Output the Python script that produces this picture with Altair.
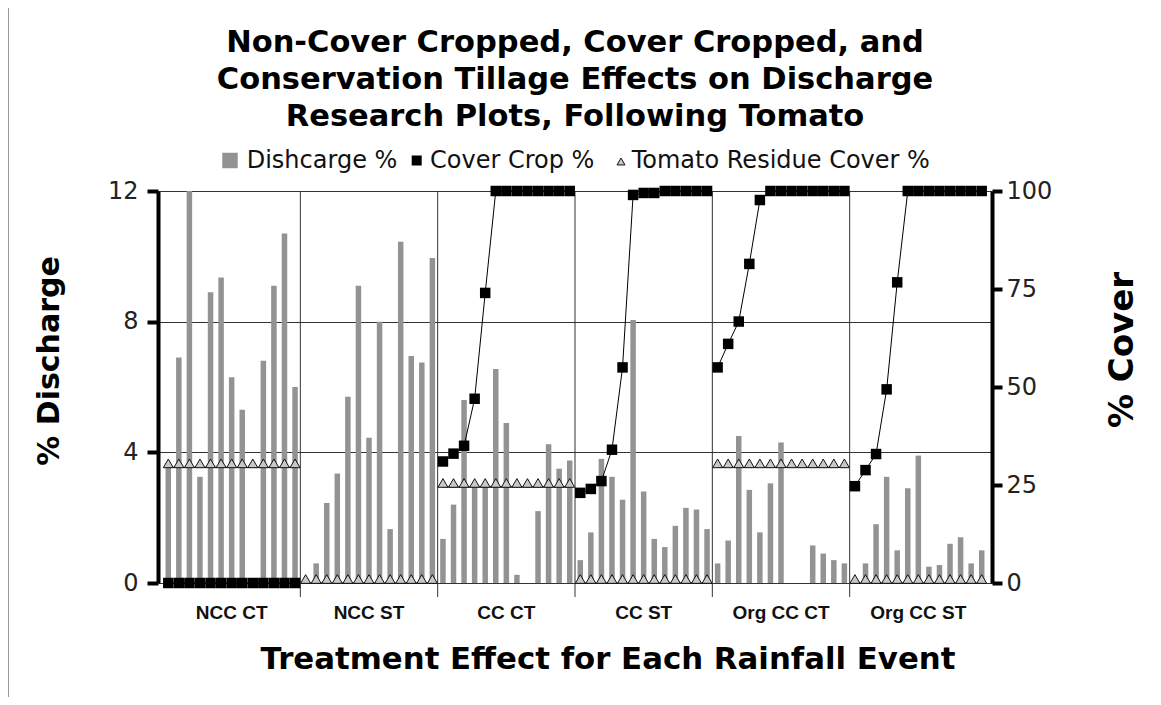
import altair as alt
import pandas as pd

# ---------------- data ----------------
groups = ["NCC CT", "NCC ST", "CC CT", "CC ST", "Org CC CT", "Org CC ST"]

discharge_ncc_ct = [3.6, 6.9, 12.0, 3.25, 8.9, 9.35, 6.3, 5.3, 0.0, 6.8, 9.1, 10.7, 6.0]
discharge_ncc_st = [0.0, 0.6, 2.45, 3.35, 5.7, 9.1, 4.45, 8.0, 1.65, 10.45, 6.95, 6.75, 9.95]
discharge_cc_ct = [1.35, 2.4, 5.6, 3.0, 2.95, 6.55, 4.9, 0.25, 0.0, 2.2, 4.25, 3.5, 3.75]
discharge_cc_st = [0.7, 1.55, 3.8, 3.25, 2.55, 8.05, 2.8, 1.35, 1.1, 1.75, 2.3, 2.25, 1.65]
discharge_org_ct = [0.6, 1.3, 4.5, 2.85, 1.55, 3.05, 4.3, 0.0, 0.0, 1.15, 0.9, 0.7, 0.6]
discharge_org_st = [0.0, 0.6, 1.8, 3.25, 1.0, 2.9, 3.9, 0.5, 0.55, 1.2, 1.4, 0.6, 1.0]

cover_ncc_ct = [0, 0, 0, 0, 0, 0, 0, 0, 0, 0, 0, 0, 0]
cover_ncc_st = [None] * 13
cover_cc_ct = [31, 33, 35, 47, 74, 100, 100, 100, 100, 100, 100, 100, 100]
cover_cc_st = [23, 24, 26, 34, 55, 99, 99.5, 99.5, 100, 100, 100, 100, 100]
cover_org_ct = [55, 61, 66.7, 81.4, 97.7, 100, 100, 100, 100, 100, 100, 100, 100]
cover_org_st = [24.7, 28.8, 32.9, 49.4, 76.7, 100, 100, 100, 100, 100, 100, 100, 100]

residue_ncc_ct = [29.5] * 13
residue_ncc_st = [0] * 13
residue_cc_ct = [24.5] * 13
residue_cc_st = [0] * 13
residue_org_ct = [29.5] * 13
residue_org_st = [0] * 13

discharge_all = [discharge_ncc_ct, discharge_ncc_st, discharge_cc_ct,
                 discharge_cc_st, discharge_org_ct, discharge_org_st]
cover_all = [cover_ncc_ct, cover_ncc_st, cover_cc_ct,
             cover_cc_st, cover_org_ct, cover_org_st]
residue_all = [residue_ncc_ct, residue_ncc_st, residue_cc_ct,
               residue_cc_st, residue_org_ct, residue_org_st]

title_lines = ["Non-Cover Cropped, Cover Cropped, and",
               "Conservation Tillage Effects on Discharge",
               "Research Plots, Following Tomato"]
legend_labels = ["Dishcarge %", "Cover Crop %", "Tomato Residue Cover %"]
x_title = "Treatment Effect for Each Rainfall Event"
y_left_title = "% Discharge"
y_right_title = "% Cover"

n_events = len(discharge_ncc_ct)
n_total = n_events * len(groups)

# ---------------- tables ----------------
rows = []
for gi, g in enumerate(groups):
    for j in range(n_events):
        rows.append({
            "group": g,
            "pos": gi * n_events + j + 0.5,
            "discharge": discharge_all[gi][j],
            "cover": cover_all[gi][j],
            "residue": residue_all[gi][j],
        })
df = pd.DataFrame(rows)
df_cover = df.dropna(subset=["cover"])
df_groups = pd.DataFrame({"group": groups,
                          "center": [gi * n_events + n_events / 2 for gi in range(len(groups))]})
df_bounds = pd.DataFrame({"b": [gi * n_events for gi in range(1, len(groups))]})
one = pd.DataFrame({"k": [0]})

W, H = 834, 392
FONT = "DejaVu Sans"

xscale = alt.Scale(domain=[0, n_total], nice=False, zero=False)

# ---------------- left (discharge) ----------------
bars = alt.Chart(df).mark_bar(size=5.5, color="#939393").encode(
    x=alt.X("pos:Q", scale=xscale,
            axis=alt.Axis(labels=False, ticks=False, grid=False, title=None,
                          domainColor="black", domainWidth=1.5)),
    y=alt.Y("discharge:Q", scale=alt.Scale(domain=[0, 12], nice=False),
            axis=alt.Axis(orient="left", values=[0, 4, 8, 12], grid=True,
                          gridColor="#333333", gridWidth=1, gridOpacity=1,
                          domainColor="black", domainWidth=4,
                          tickColor="black", tickWidth=4, tickSize=11,
                          labelFont=FONT, labelFontSize=24, labelColor="#222222",
                          labelPadding=9, title=None)),
)

seps = alt.Chart(df_bounds).mark_rule(color="#333333", strokeWidth=1).encode(
    x=alt.X("b:Q", scale=xscale, axis=None),
    y=alt.value(0), y2=alt.value(H + 14),
)

glabels = alt.Chart(df_groups).mark_text(
    font="Liberation Sans", fontSize=19, fontWeight="bold", color="#111111",
    baseline="middle", align="center").encode(
    x=alt.X("center:Q", scale=xscale, axis=None),
    y=alt.value(422),
    text="group:N",
)

left = alt.layer(bars, seps, glabels)

# ---------------- right (cover) ----------------
cov_scale = alt.Scale(domain=[0, 100], nice=False)
cov_axis = alt.Axis(orient="right", values=[0, 25, 50, 75, 100], grid=False,
                    domainColor="black", domainWidth=4,
                    tickColor="black", tickWidth=4, tickSize=10,
                    labelFont=FONT, labelFontSize=24, labelColor="#222222",
                    labelPadding=4, title=None)

res_line = alt.Chart(df).mark_line(color="#222222", strokeWidth=1.2).encode(
    x=alt.X("pos:Q", scale=xscale, axis=None),
    y=alt.Y("residue:Q", scale=cov_scale, axis=cov_axis),
    detail="group:N",
)
tri = alt.Chart(df).mark_point(shape="triangle-up", filled=True, fill="#c8c8c8",
                                stroke="#111111", strokeWidth=1, size=100,
                                opacity=1, yOffset=-4).encode(
    x=alt.X("pos:Q", scale=xscale, axis=None),
    y=alt.Y("residue:Q", scale=cov_scale, axis=cov_axis),
)
cov_line = alt.Chart(df_cover).mark_line(color="black", strokeWidth=1).encode(
    x=alt.X("pos:Q", scale=xscale, axis=None),
    y=alt.Y("cover:Q", scale=cov_scale, axis=cov_axis),
    detail="group:N",
)
squares = alt.Chart(df_cover).mark_square(color="black", size=110, opacity=1).encode(
    x=alt.X("pos:Q", scale=xscale, axis=None),
    y=alt.Y("cover:Q", scale=cov_scale, axis=cov_axis),
)
right = alt.layer(res_line, tri, cov_line, squares)

# ---------------- decorations (titles, legend) ----------------
deco = []
title_y = [-148, -111, -74]
for line, ty in zip(title_lines, title_y):
    deco.append(alt.Chart(one).mark_text(
        font=FONT, fontSize=30.5, fontWeight="bold", color="black",
        align="center", baseline="middle").encode(
        x=alt.value(W / 2), y=alt.value(ty), text=alt.value(line)))

deco.append(alt.Chart(one).mark_text(
    font=FONT, fontSize=30.8, fontWeight="bold", color="black",
    align="center", baseline="middle").encode(
    x=alt.value(450), y=alt.value(469), text=alt.value(x_title)))

deco.append(alt.Chart(one).mark_text(
    font=FONT, fontSize=30, fontWeight="bold", color="black", angle=270,
    align="center", baseline="middle").encode(
    x=alt.value(-108), y=alt.value(170), text=alt.value(y_left_title)))

deco.append(alt.Chart(one).mark_text(
    font=FONT, fontSize=34, fontWeight="bold", color="black", angle=270,
    align="center", baseline="middle").encode(
    x=alt.value(965), y=alt.value(159), text=alt.value(y_right_title)))

# legend
leg_y = -30.5
deco.append(alt.Chart(one).mark_square(color="#939393", size=240, opacity=1).encode(
    x=alt.value(72), y=alt.value(leg_y)))
deco.append(alt.Chart(one).mark_square(color="black", size=100, opacity=1).encode(
    x=alt.value(258.7), y=alt.value(leg_y)))
deco.append(alt.Chart(one).mark_point(shape="triangle-up", filled=True, fill="#c8c8c8",
                                       stroke="#111111", strokeWidth=1, size=64,
                                       opacity=1).encode(
    x=alt.value(463), y=alt.value(leg_y + 1)))
for lab, lx in zip(legend_labels, [88.7, 272, 473.7]):
    deco.append(alt.Chart(one).mark_text(
        font=FONT, fontSize=24, color="#111111", align="left",
        baseline="middle").encode(
        x=alt.value(lx), y=alt.value(leg_y), text=alt.value(lab)))

# faint page border line on the left
deco.append(alt.Chart(one).mark_rule(color="#9a9a9a", strokeWidth=1).encode(
    x=alt.value(-149.5), y=alt.value(-191), y2=alt.value(520)))

chart = alt.layer(left, right, *deco).resolve_scale(y="independent").properties(
    width=W, height=H,
    autosize=alt.AutoSizeParams(type="none"),
    padding={"left": 150, "top": 183, "right": 161, "bottom": 114},
    background="white",
).configure_view(stroke=None)

chart.save("out.html", embed_options={"renderer": "svg", "actions": False})
